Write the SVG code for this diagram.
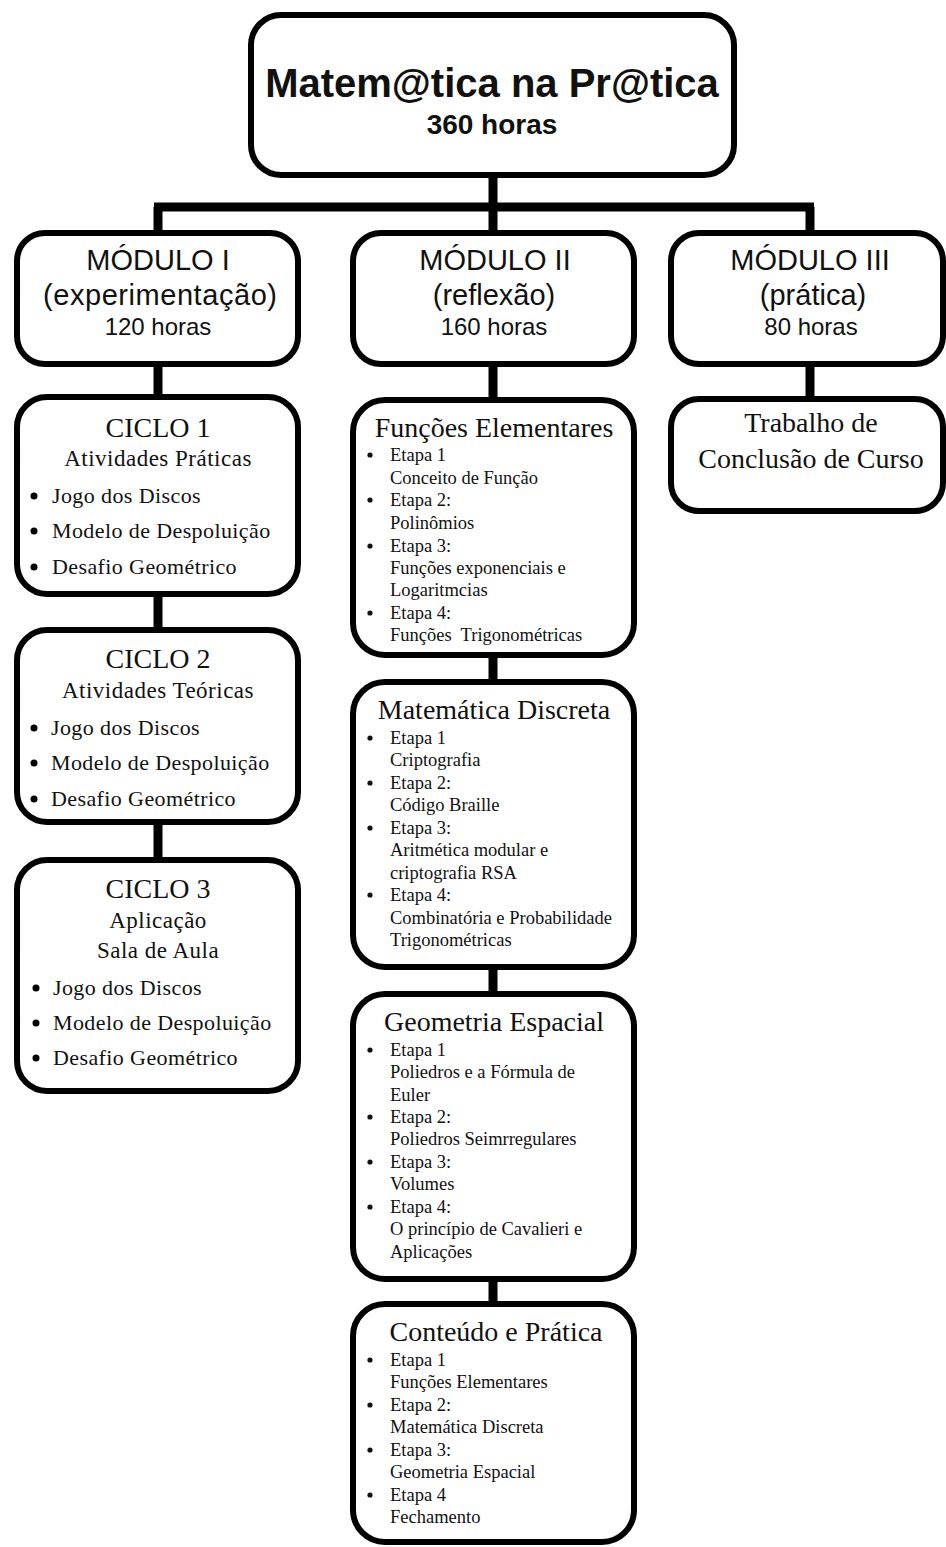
<svg xmlns="http://www.w3.org/2000/svg" width="946" height="1547" viewBox="0 0 946 1547">
<style>
.box{fill:#fff;stroke:#000;stroke-width:6}
.con{stroke:#000;stroke-width:9;fill:none}
.sans{font-family:"Liberation Sans",Arial,sans-serif;fill:#111;text-anchor:middle}
.serif{font-family:"Liberation Serif","Times New Roman",serif;fill:#111}
.c{text-anchor:middle}
.ttl{font-size:28px}
.cyc{font-size:22px}
.it{font-size:18.5px}
</style>
<rect width="946" height="1547" fill="#fff"/>
<g id="connectors">
<path class="con" d="M493 175V207M154 207H814M158 207V233M493 207V233M810 207V233"/>
<path class="con" d="M158 364V397M158 594V630M158 822V860"/>
<path class="con" d="M493 364V400M493 655V682M493 967V994M493 1279V1304"/>
<path class="con" d="M810 364V399"/>
</g>
<g id="root">
<rect class="box" x="251" y="15" width="483" height="160" rx="30"/>
<text class="sans" x="492" y="97" font-size="40" font-weight="bold">Matem@tica na Pr@tica</text>
<text class="sans" x="492" y="134" font-size="28" font-weight="bold">360 horas</text>
</g>
<g id="modulo1">
<rect class="box" x="17" y="233" width="281" height="131" rx="28"/>
<text class="sans" x="158" y="270" font-size="29">MÓDULO I</text>
<text class="sans" x="160" y="305" font-size="29" textLength="234" lengthAdjust="spacing">(experimentação)</text>
<text class="sans" x="158" y="335" font-size="24">120 horas</text>
</g>
<g id="modulo2">
<rect class="box" x="353" y="233" width="281" height="131" rx="28"/>
<text class="sans" x="495" y="270" font-size="29">MÓDULO II</text>
<text class="sans" x="494" y="305" font-size="29">(reflexão)</text>
<text class="sans" x="494" y="335" font-size="24">160 horas</text>
</g>
<g id="modulo3">
<rect class="box" x="671" y="233" width="272" height="131" rx="28"/>
<text class="sans" x="810" y="270" font-size="29">MÓDULO III</text>
<text class="sans" x="813" y="305" font-size="29">(prática)</text>
<text class="sans" x="811" y="335" font-size="24">80 horas</text>
</g>
<g id="ciclo1">
<rect class="box" x="17" y="397" width="281" height="197" rx="30"/>
<text class="serif c" x="158" y="437" font-size="28">CICLO 1</text>
<text class="serif c" x="158" y="466" font-size="23" letter-spacing="0.5">Atividades Práticas</text>
<circle cx="34" cy="496" r="3.5"/><text class="serif cyc" x="52" y="503" letter-spacing="0.4">Jogo dos Discos</text>
<circle cx="34" cy="531" r="3.5"/><text class="serif cyc" x="52" y="538" letter-spacing="0.4">Modelo de Despoluição</text>
<circle cx="34" cy="567" r="3.5"/><text class="serif cyc" x="52" y="574" letter-spacing="0.4">Desafio Geométrico</text>
</g>
<g id="ciclo2">
<rect class="box" x="17" y="630" width="281" height="192" rx="30"/>
<text class="serif c" x="158" y="668" font-size="28">CICLO 2</text>
<text class="serif c" x="158" y="698" font-size="23" letter-spacing="0.5">Atividades Teóricas</text>
<circle cx="34" cy="728" r="3.5"/><text class="serif cyc" x="51" y="735" letter-spacing="0.4">Jogo dos Discos</text>
<circle cx="34" cy="763" r="3.5"/><text class="serif cyc" x="51" y="770" letter-spacing="0.4">Modelo de Despoluição</text>
<circle cx="34" cy="799" r="3.5"/><text class="serif cyc" x="51" y="806" letter-spacing="0.4">Desafio Geométrico</text>
</g>
<g id="ciclo3">
<rect class="box" x="17" y="860" width="281" height="231" rx="30"/>
<text class="serif c" x="158" y="898" font-size="28">CICLO 3</text>
<text class="serif c" x="158" y="928" font-size="23" letter-spacing="0.5">Aplicação</text>
<text class="serif c" x="158" y="958" font-size="23" letter-spacing="0.5">Sala de Aula</text>
<circle cx="36" cy="988" r="3.5"/><text class="serif cyc" x="53" y="995" letter-spacing="0.4">Jogo dos Discos</text>
<circle cx="36" cy="1023" r="3.5"/><text class="serif cyc" x="53" y="1030" letter-spacing="0.4">Modelo de Despoluição</text>
<circle cx="36" cy="1058" r="3.5"/><text class="serif cyc" x="53" y="1065" letter-spacing="0.4">Desafio Geométrico</text>
</g>
<g id="funcoes">
<rect class="box" x="353" y="400" width="281" height="255" rx="32"/>
<text class="serif c ttl" x="494" y="437">Funções Elementares</text>
<g class="serif it">
<circle cx="370" cy="455" r="2.6"/><text x="390" y="461">Etapa 1</text>
<text x="390" y="484">Conceito de Função</text>
<circle cx="370" cy="500" r="2.6"/><text x="390" y="506">Etapa 2:</text>
<text x="390" y="529">Polinômios</text>
<circle cx="370" cy="546" r="2.6"/><text x="390" y="552">Etapa 3:</text>
<text x="390" y="574">Funções exponenciais e</text>
<text x="390" y="596">Logaritmcias</text>
<circle cx="370" cy="613" r="2.6"/><text x="390" y="619">Etapa 4:</text>
<text x="390" y="641" xml:space="preserve">Funções  Trigonométricas</text>
</g>
</g>
<g id="discreta">
<rect class="box" x="353" y="682" width="281" height="285" rx="32"/>
<text class="serif c ttl" x="494" y="719">Matemática Discreta</text>
<g class="serif it">
<circle cx="370" cy="738" r="2.6"/><text x="390" y="744">Etapa 1</text>
<text x="390" y="766">Criptografia</text>
<circle cx="370" cy="783" r="2.6"/><text x="390" y="789">Etapa 2:</text>
<text x="390" y="811">Código Braille</text>
<circle cx="370" cy="828" r="2.6"/><text x="390" y="834">Etapa 3:</text>
<text x="390" y="856">Aritmética modular e</text>
<text x="390" y="879">criptografia RSA</text>
<circle cx="370" cy="895" r="2.6"/><text x="390" y="901">Etapa 4:</text>
<text x="390" y="924">Combinatória e Probabilidade</text>
<text x="390" y="946">Trigonométricas</text>
</g>
</g>
<g id="geometria">
<rect class="box" x="353" y="994" width="281" height="285" rx="32"/>
<text class="serif c ttl" x="494" y="1031">Geometria Espacial</text>
<g class="serif it">
<circle cx="370" cy="1050" r="2.6"/><text x="390" y="1056">Etapa 1</text>
<text x="390" y="1078">Poliedros e a Fórmula de</text>
<text x="390" y="1101">Euler</text>
<circle cx="370" cy="1117" r="2.6"/><text x="390" y="1123">Etapa 2:</text>
<text x="390" y="1145">Poliedros Seimrregulares</text>
<circle cx="370" cy="1162" r="2.6"/><text x="390" y="1168">Etapa 3:</text>
<text x="390" y="1190">Volumes</text>
<circle cx="370" cy="1207" r="2.6"/><text x="390" y="1213">Etapa 4:</text>
<text x="390" y="1235">O princípio de Cavalieri e</text>
<text x="390" y="1258">Aplicações</text>
</g>
</g>
<g id="conteudo">
<rect class="box" x="353" y="1304" width="281" height="238" rx="32"/>
<text class="serif c ttl" x="496" y="1341">Conteúdo e Prática</text>
<g class="serif it">
<circle cx="370" cy="1360" r="2.6"/><text x="390" y="1366">Etapa 1</text>
<text x="390" y="1388">Funções Elementares</text>
<circle cx="370" cy="1405" r="2.6"/><text x="390" y="1411">Etapa 2:</text>
<text x="390" y="1433">Matemática Discreta</text>
<circle cx="370" cy="1450" r="2.6"/><text x="390" y="1456">Etapa 3:</text>
<text x="390" y="1478">Geometria Espacial</text>
<circle cx="370" cy="1495" r="2.6"/><text x="390" y="1501">Etapa 4</text>
<text x="390" y="1523">Fechamento</text>
</g>
</g>
<g id="tcc">
<rect class="box" x="671" y="399" width="272" height="112" rx="28"/>
<text class="serif c" x="811" y="432" font-size="28">Trabalho de</text>
<text class="serif c" x="811" y="468" font-size="28">Conclusão de Curso</text>
</g>
</svg>
